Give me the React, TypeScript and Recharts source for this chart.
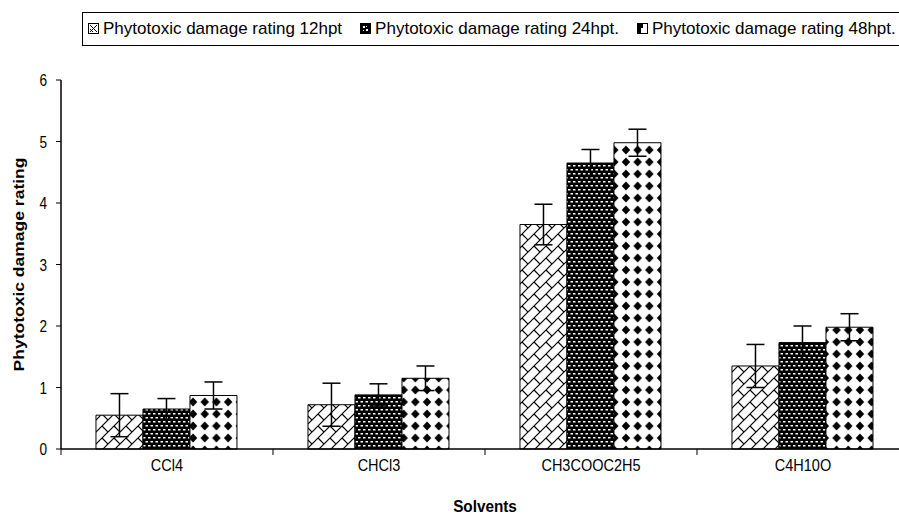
import React from 'react';
import { BarChart, Bar, XAxis, YAxis, ErrorBar } from 'recharts';

const categories = ['CCl4', 'CHCl3', 'CH3COOC2H5', 'C4H10O'];
const rating12 = [0.55, 0.72, 3.65, 1.35];
const rating24 = [0.65, 0.88, 4.65, 1.73];
const rating48 = [0.87, 1.15, 4.98, 1.98];
const err12 = [0.35, 0.35, 0.33, 0.35];
const err24 = [0.17, 0.18, 0.22, 0.27];
const err48 = [0.22, 0.2, 0.22, 0.22];
const yTicks = [0, 1, 2, 3, 4, 5, 6];
const seriesNames = [
  'Phytotoxic damage rating 12hpt',
  'Phytotoxic damage rating 24hpt.',
  'Phytotoxic damage rating 48hpt.',
];
const xTitle = 'Solvents';
const yTitle = 'Phytotoxic damage rating';

const data = categories.map((c, i) => ({
  name: c,
  r12: rating12[i],
  r24: rating24[i],
  r48: rating48[i],
  e12: err12[i],
  e24: err24[i],
  e48: err48[i],
}));

const FONT = '"Liberation Sans", Arial, sans-serif';

const XTick = (props: any) => {
  const { x, y, payload, index } = props;
  const off = payload.offset || 0;
  return (
    <g>
      <line x1={x - off} y1={y} x2={x - off} y2={y + 6} stroke="#000" strokeWidth={1} />
      {index === categories.length - 1 && (
        <line x1={x + off} y1={y} x2={x + off} y2={y + 6} stroke="#000" strokeWidth={1} />
      )}
      <text
        transform={`translate(${x},${y + 22}) scale(0.88,1)`}
        textAnchor="middle"
        fontSize={16.5}
        fontFamily={FONT}
        fill="#000"
      >
        {payload.value}
      </text>
    </g>
  );
};

const YTick = (props: any) => {
  const { x, y, payload } = props;
  return (
    <text
      transform={`translate(${x},${y + 6}) scale(0.8,1)`}
      textAnchor="end"
      fontSize={17}
      fontFamily={FONT}
      fill="#000"
    >
      {payload.value}
    </text>
  );
};

const YTitle = (props: any) => {
  const vb = props.viewBox || { x: 0, y: 80, width: 61, height: 369 };
  const cy = vb.y + vb.height / 2;
  return (
    <text
      transform={`translate(24,${cy}) rotate(-90) scale(1,0.82)`}
      textAnchor="middle"
      fontSize={17.5}
      fontWeight="bold"
      fontFamily={FONT}
      fill="#000"
    >
      {yTitle}
    </text>
  );
};

const XTitle = (props: any) => {
  const vb = props.viewBox || { x: 61, y: 449, width: 848, height: 67 };
  const cx = vb.x + vb.width / 2;
  return (
    <text
      transform={`translate(${cx},512) scale(0.9,1)`}
      textAnchor="middle"
      fontSize={17}
      fontWeight="bold"
      fontFamily={FONT}
      fill="#000"
    >
      {xTitle}
    </text>
  );
};

const Icon = ({ kind }: { kind: number }) => (
  <svg width={11} height={11} style={{ display: 'inline-block', verticalAlign: 'middle', marginRight: 4, marginTop: -3 }}>
    <rect x={0.5} y={0.5} width={10} height={10} fill="#fff" stroke="#000" />
    {kind === 0 && <path d="M2,2 L9,9 M2,9 L9,2 M2,6 L5,9" stroke="#000" strokeWidth={1} fill="none" />}
    {kind === 1 && (
      <g fill="#000">
        <rect x={1} y={1} width={9} height={9} />
        <rect x={3} y={3} width={2} height={2} fill="#fff" />
        <rect x={6} y={6} width={2} height={2} fill="#fff" />
        <rect x={6} y={3} width={1} height={1} fill="#fff" />
        <rect x={3} y={7} width={1} height={1} fill="#fff" />
      </g>
    )}
    {kind === 2 && <path d="M1,1 L6,1 L6,5 L4,5 L4,10 L1,10 Z" fill="#000" />}
  </svg>
);

export default function App() {
  return (
    <div
      style={{
        position: 'fixed',
        left: 0,
        top: 0,
        width: 899,
        height: 516,
        overflow: 'hidden',
        background: '#fff',
      }}
    >
      <div
        style={{
          position: 'absolute',
          left: 82,
          top: 12,
          width: 900,
          height: 34,
          border: '1px solid #000',
          fontFamily: FONT,
          fontSize: 17,
          lineHeight: '32px',
          whiteSpace: 'nowrap',
          paddingLeft: 5,
          boxSizing: 'border-box',
        }}
      >
        {seriesNames.map((n, i) => (
          <span key={n} style={{ marginRight: 18 }}>
            <Icon kind={i} />
            {n}
          </span>
        ))}
      </div>
      <div style={{ position: 'absolute', left: 0, top: 0 }}>
        <BarChart
          width={930}
          height={516}
          data={data}
          margin={{ top: 80, right: 21, left: 0, bottom: 0 }}
          barCategoryGap="16.5%"
          barGap={0}
        >
          <defs>
            <pattern id="brick" width="12" height="12" patternUnits="userSpaceOnUse">
              <rect width="12" height="12" fill="#fff" />
              <path
                d="M-1,13 L13,-1 M-1,1 L1,-1 M11,13 L13,11 M6,6 L12,12"
                stroke="#000"
                strokeWidth="1.2"
                fill="none"
              />
            </pattern>
            <pattern id="dots" width="5" height="8" patternUnits="userSpaceOnUse">
              <rect width="5" height="8" fill="#000" />
              <rect x="0.5" y="1" width="2.5" height="1.5" fill="#fff" />
              <rect x="3" y="5" width="2.5" height="1.5" fill="#fff" />
              <rect x="-2" y="5" width="2.5" height="1.5" fill="#fff" />
            </pattern>
            <pattern id="diamonds" width="11.7" height="12" patternUnits="userSpaceOnUse">
              <rect width="11.7" height="12" fill="#fff" />
              <path d="M5.85,1.6 L10.1,6 L5.85,10.4 L1.6,6 Z" fill="#000" />
            </pattern>
          </defs>
          <XAxis
            dataKey="name"
            height={67}
            tickLine={false}
            tickSize={0}
            tickMargin={0}
            tick={<XTick />}
            axisLine={{ stroke: '#000', strokeWidth: 1.5 }}
            interval={0}
            label={{ content: <XTitle /> } as any}
          />
          <YAxis
            width={61}
            domain={[0, 6]}
            ticks={yTicks}
            interval={0}
            tickSize={5}
            tickMargin={9}
            tickLine={{ stroke: '#000' }}
            axisLine={{ stroke: '#000', strokeWidth: 1.5 }}
            tick={<YTick />}
            label={{ content: <YTitle /> } as any}
          />
          <Bar dataKey="r12" name={seriesNames[0]} fill="url(#brick)" stroke="#000" strokeWidth={1} isAnimationActive={false}>
            <ErrorBar dataKey="e12" width={9} stroke="#000" strokeWidth={1.5} />
          </Bar>
          <Bar dataKey="r24" name={seriesNames[1]} fill="url(#dots)" stroke="#000" strokeWidth={1} isAnimationActive={false}>
            <ErrorBar dataKey="e24" width={9} stroke="#000" strokeWidth={1.5} />
          </Bar>
          <Bar dataKey="r48" name={seriesNames[2]} fill="url(#diamonds)" stroke="#000" strokeWidth={1} isAnimationActive={false}>
            <ErrorBar dataKey="e48" width={9} stroke="#000" strokeWidth={1.5} />
          </Bar>
        </BarChart>
      </div>
    </div>
  );
}
